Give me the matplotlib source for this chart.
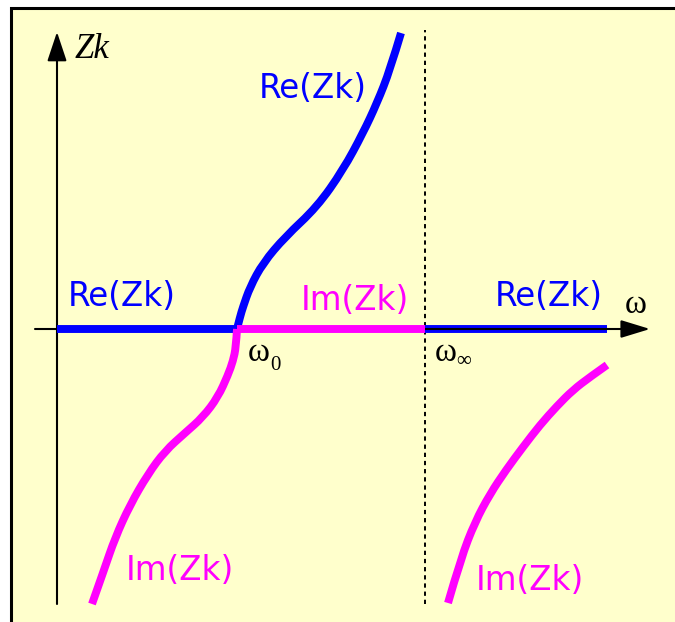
import matplotlib
matplotlib.use("Agg")
import matplotlib.pyplot as plt
from matplotlib.patches import Rectangle, PathPatch
from matplotlib.path import Path

# ---- data (omega, Zk) in schematic units; origin at axes crossing ----
omega0 = 180
omega_inf = 368
omega_end = 550

re_rise_w = [180, 183, 186, 193, 206, 228, 260, 286, 306, 320, 333, 344]
re_rise_z = [0, 12, 22, 42, 66, 92, 122, 159, 196, 226, 259, 296]

im_fall_w = [180, 179, 176, 171, 161, 146, 128, 108, 91, 73, 58, 47, 35]
im_fall_z = [0, -18, -32, -46, -68, -88, -104, -122, -145, -176, -209, -241, -275]

im_right_w = [550, 533, 516, 500, 483, 466, 449, 433, 418, 404, 391]
im_right_z = [-36, -48, -61, -77, -96, -118, -141, -165, -193, -229, -274]

BLUE = "#0000FF"
MAG = "#FF00FF"
BG = "#FFFFCC"

fig = plt.figure(figsize=(6.75, 6.22), dpi=100)
fig.patch.set_facecolor("white")
bgrect = Rectangle((10.5 / 675, -0.1), 1.2, (622 - 8) / 622 + 0.1,
                   transform=fig.transFigure, facecolor=BG,
                   edgecolor="black", lw=2.2, zorder=-10)
fig.patches.append(bgrect)

ax = fig.add_axes([0, 0, 1, 1])
ax.set_zorder(5)
ax.set_xlim(-57, 618)
ax.set_ylim(-293, 329)
ax.axis("off")
ax.patch.set_alpha(0)

lw = 5.7


def smooth_curve(xs, ys, color, z):
    """Draw a smooth curve through the data using midpoint quadratic Beziers."""
    pts = list(zip(xs, ys))
    verts = [pts[0]]
    codes = [Path.MOVETO]
    for i in range(1, len(pts) - 1):
        mid = ((pts[i][0] + pts[i + 1][0]) / 2, (pts[i][1] + pts[i + 1][1]) / 2)
        if i == len(pts) - 2:
            mid = pts[-1]
        verts += [pts[i], mid]
        codes += [Path.CURVE3, Path.CURVE3]
    patch = PathPatch(Path(verts, codes), facecolor="none", edgecolor=color,
                      lw=lw, capstyle="butt", joinstyle="round", zorder=z)
    ax.add_patch(patch)


# right Re segment (axis drawn over it)
ax.plot([omega_inf, omega_end], [0, 0], color=BLUE, lw=lw, solid_capstyle="butt", zorder=2)

# axes
ax.annotate("", xy=(593, 0), xytext=(-22, 0),
            arrowprops=dict(arrowstyle="-|>,head_length=1.8,head_width=0.55",
                            mutation_scale=10, lw=1.5, color="black",
                            shrinkA=0, shrinkB=0), zorder=3)
ax.annotate("", xy=(0, 297), xytext=(0, -275),
            arrowprops=dict(arrowstyle="-|>,head_length=1.8,head_width=0.6",
                            mutation_scale=10, lw=1.5, color="black",
                            shrinkA=0, shrinkB=0), zorder=3)
ax.plot([omega_inf, omega_inf], [-275, 299], color="black", lw=1.4,
        ls=(0, (2.2, 2.0)), zorder=1)

# curves
ax.plot([0, omega0], [0, 0], color=BLUE, lw=lw, solid_capstyle="butt", zorder=4)
smooth_curve(re_rise_w, re_rise_z, BLUE, 5)
smooth_curve(im_fall_w, im_fall_z, MAG, 5)
ax.plot([omega0, omega_inf], [0, 0], color=MAG, lw=lw, solid_capstyle="butt", zorder=6)
smooth_curve(im_right_w, im_right_z, MAG, 5)

fs = 23.5
ax.text(256, 241, "Re(Zk)", color=BLUE, fontsize=fs, ha="center", va="center")
ax.text(65, 33, "Re(Zk)", color=BLUE, fontsize=fs, ha="center", va="center")
ax.text(298, 28, "Im(Zk)", color=MAG, fontsize=fs, ha="center", va="center")
ax.text(492, 32, "Re(Zk)", color=BLUE, fontsize=fs, ha="center", va="center")
ax.text(123, -241, "Im(Zk)", color=MAG, fontsize=fs, ha="center", va="center")
ax.text(473, -252, "Im(Zk)", color=MAG, fontsize=fs, ha="center", va="center")

serif = "Liberation Serif"
ax.text(18, 279, "Zk", family=serif, style="italic", fontsize=25,
        ha="left", va="center")
ax.text(579, 24, "ω", family=serif, fontsize=24, ha="center", va="center")
ax.text(191, -24, "ω", family=serif, fontsize=24, ha="left", va="center")
ax.text(213, -36, "0", family=serif, fontsize=15, ha="left", va="center")
ax.text(378, -24, "ω", family=serif, fontsize=24, ha="left", va="center")
ax.text(399, -33, "∞", family=serif, fontsize=15, ha="left", va="center")

fig.savefig("out.png", dpi=100)
